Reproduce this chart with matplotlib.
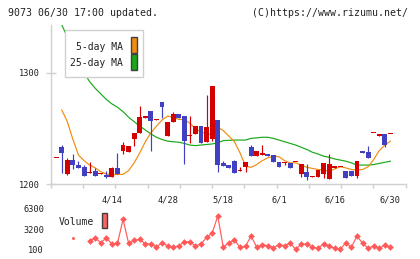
import matplotlib
matplotlib.use("Agg")
import matplotlib.pyplot as plt
from matplotlib.patches import Rectangle
import numpy as np

nan = np.nan

# daily candles, one entry per trading day
opens = [1223, 1233, 1209, 1221.5, 1217, 1215, 1209.5, 1212, 1209, 1208,
         1206.3, 1214, 1229.7, 1229, 1240.5, 1246, 1259.5, 1266, 1257.5, 1273.5,
         1243.5, 1255.5, 1263, 1261, 1243, 1244.5, 1252.5, 1238, 1240, 1257.5,
         1218.5, 1217, 1220.5, 1211.5, 1215.5, 1233.5, 1225.5, 1226.5, 1227, 1226,
         1220, 1218.5, 1218.5, 1219.5, 1209, 1211, 1206, 1206.5, 1209, 1204.5,
         1214.5, 1215, 1211.5, 1211.5, 1207.5, 1229.5, 1228.5, 1245.5, 1243, 1244.5,
         1244.5]
highs = [1223, 1235, 1223, 1227, 1220.5, 1217, 1220, 1214.5, 1209.5, 1211.5,
         1215.5, 1228, 1238, 1234.5, 1246, 1270, 1260, 1266, 1258, 1273.5,
         1256, 1264.5, 1263, 1261, 1261, 1252.5, 1252.5, 1280, 1288, 1257.5,
         1221, 1217, 1221.5, 1215.5, 1220, 1235, 1229.5, 1235, 1227, 1226,
         1220, 1220, 1218.5, 1220, 1218, 1218, 1207.5, 1212.5, 1218.5, 1227,
         1216, 1215.5, 1211.5, 1211.5, 1220.5, 1229.5, 1234, 1246, 1244.5, 1244.5,
         1245]
lows = [1223, 1210, 1208, 1213.5, 1214.5, 1207.5, 1209.5, 1207.5, 1209, 1205.5,
        1206, 1209, 1227, 1229, 1234, 1246, 1259.5, 1230, 1257.5, 1259,
        1243.5, 1255.5, 1259, 1218, 1237, 1244.5, 1237, 1238, 1239, 1211,
        1216.5, 1214.5, 1210, 1211.5, 1211, 1225.5, 1225.5, 1226.5, 1225.5, 1220,
        1215.5, 1217.5, 1214.5, 1219.5, 1206.5, 1204, 1206, 1206.5, 1205, 1204.5,
        1214.5, 1215, 1205.5, 1207.5, 1205, 1228, 1223.5, 1245.5, 1243, 1233.5,
        1244.5]
closes = [1223, 1228, 1221.5, 1217.5, 1214.5, 1207.5, 1210, 1207.5, 1209.5, 1206,
          1214.5, 1209, 1235, 1234.5, 1246, 1260.5, 1260, 1257, 1258, 1269.5,
          1256, 1263, 1259, 1239, 1243.5, 1252.5, 1237, 1251, 1288, 1217,
          1216.5, 1214.5, 1210, 1213, 1220, 1225.5, 1229.5, 1227, 1225.5, 1220,
          1215.5, 1219, 1214.5, 1220, 1218, 1206, 1207.5, 1212.5, 1218.5, 1218,
          1216, 1215.5, 1205.5, 1207.5, 1220.5, 1228, 1223.5, 1246, 1244.5, 1235.5,
          1245]

ma5 = [nan, 1266.5, 1256, 1240, 1226, 1221, 1217, 1214.5, 1211, 1209,
       1208.5, 1208.5, 1208.7, 1212, 1219, 1228, 1238, 1246, 1252, 1257.5,
       1261, 1260, 1258, 1258, 1254.5, 1250, 1246.5, 1245.5, 1244, 1251,
       1248, 1243, 1238, 1228, 1216, 1215, 1217.5, 1221, 1223.5, 1225,
       1224.5, 1221, 1219, 1219, 1217, 1215, 1214, 1213, 1212.6, 1211.5,
       1213.5, 1215.5, 1214.5, 1213, 1212.6, 1213, 1215.5, 1222, 1230, 1235,
       1238.5]
ma25 = [nan, 1343, 1332, 1321, 1310, 1300, 1292, 1286, 1281, 1276,
        1272, 1269, 1265, 1260, 1256, 1252, 1248.5, 1245, 1242, 1240,
        1238.5, 1238, 1237.5, 1236.5, 1235, 1234.5, 1235, 1235.5, 1236, 1237,
        1239, 1239.2, 1239.5, 1239.5, 1239.5, 1241, 1241.5, 1242, 1242, 1241,
        1239.5, 1238, 1236.5, 1235, 1233, 1231, 1228.5, 1227, 1225, 1224,
        1222.5, 1221.5, 1220.5, 1219, 1217, 1217, 1217, 1217.5, 1218.5, 1219.5,
        1220.5]

volume = [nan, nan, nan, 1880, nan, nan, 1420, 1840, 1110, 1840,
          920, 1020, 4710, 1020, 1480, 1640, 920, 920, 450, 1110,
          610, 450, 610, 1270, 1270, 610, 920, 1950, 2560, 5220,
          410, 1110, 1530, 410, 610, 2150, 410, 810, 650, 350,
          810, 650, 1050, 100, 870, 920, 410, 250, 920, 610,
          250, 100, 1110, 410, 2150, 1020, 250, 610, 250, 760,
          410]

date_labels = ["4/14", "4/28", "5/18", "6/1", "6/16", "6/30"]
date_pos = [10, 20, 30, 40, 50, 60]

RED = "#d40000"
BLUE = "#4040c0"
ORANGE = "#f08c10"
GREEN = "#18a818"
VOLC = "#ff5a5a"
GRID = "#d0d0d0"
MONO = "DejaVu Sans Mono"

W, H = 420, 259


def px(x, y):
    return x / W, 1 - y / H


fig = plt.figure(figsize=(4.2, 2.59), dpi=100)
ax = fig.add_axes([50.7 / W, 75 / H, 355 / W, 159 / H])
axv = fig.add_axes([50.7 / W, 6 / H, 355 / W, 48 / H])

o = np.array(opens)
c = np.array(closes)
x = np.arange(len(o))
up = c >= o
cols = np.where(up, RED, BLUE)
body_lo = np.minimum(o, c)
body_h = np.maximum(np.abs(c - o), 1.2)

ax.plot(x, ma25, color=GREEN, lw=0.85, zorder=2)
ax.plot(x, ma5, color=ORANGE, lw=0.85, zorder=2)
ax.vlines(x, lows, highs, colors=cols, lw=0.85, zorder=3)
ax.bar(x, body_h, bottom=body_lo, width=0.88, color=cols, lw=0, zorder=4)

xlim = (-0.99, 62.75)
ax.set_xlim(xlim)
ax.set_ylim(1200, 1342.9)
for s in ["top", "right"]:
    ax.spines[s].set_visible(False)
for s in ["left", "bottom"]:
    ax.spines[s].set_color(GRID)
    ax.spines[s].set_linewidth(1.0)
ax.set_xticks(np.linspace(xlim[0], xlim[1], 12))
ax.tick_params(axis="x", which="major", direction="out", length=3.2,
               width=1.0, color=GRID, labelbottom=False)
ax.set_xticks(date_pos, date_labels, minor=True)
ax.tick_params(axis="x", which="minor", length=0, pad=8.0,
               labelsize=6.2, labelcolor="#222222")
ax.set_yticks([1200, 1300])
ax.set_yticklabels(["1200", "1300"], fontsize=6.2, color="#222222")
ax.tick_params(axis="y", direction="inout", length=7, width=1.0,
               color=GRID, pad=4.3)
for lab in ax.get_xticklabels(minor=True) + ax.get_yticklabels():
    lab.set_family(MONO)

# volume panel
axv.plot(x[6:], volume[6:], color=VOLC, lw=0.85, marker="D",
         markersize=3.4, markeredgewidth=0, zorder=3)
axv.plot([x[3]], [volume[3]], color=VOLC, marker="s", markersize=1.0, lw=0)
axv.set_xlim(xlim)
axv.set_ylim(-469, 6915)
for s in axv.spines.values():
    s.set_visible(False)
axv.set_xticks([])
axv.set_yticks([100, 3200, 6300])
axv.set_yticklabels(["100", "3200", "6300"], fontsize=6.2, color="#222222",
                    family=MONO)
axv.tick_params(axis="y", length=0, pad=4.8)

# header texts
fig.text(*px(8.3, 13.5), "9073 06/30 17:00 updated.", fontsize=7.1,
         family=MONO, color="#222222", va="center", ha="left")
fig.text(*px(408, 13.5), "(C)https://www.rizumu.net/", fontsize=7.1,
         family=MONO, color="#222222", va="center", ha="right")

# moving average legend
fig.add_artist(Rectangle(px(65, 77.3), 78.3 / W, 47.3 / H,
                         transform=fig.transFigure, facecolor="white",
                         edgecolor=GRID, lw=1.0, zorder=5))
fig.text(*px(123, 47.3), "5-day MA", fontsize=7, family=MONO,
         color="#222222", va="center", ha="right", zorder=6)
fig.text(*px(123, 62.5), "25-day MA", fontsize=7, family=MONO,
         color="#222222", va="center", ha="right", zorder=6)
fig.add_artist(Rectangle(px(131, 52.7), 6.3 / W, 16 / H,
                         transform=fig.transFigure, facecolor=ORANGE,
                         edgecolor="#404040", lw=1.0, zorder=6))
fig.add_artist(Rectangle(px(131, 70), 6.3 / W, 15.7 / H,
                         transform=fig.transFigure, facecolor=GREEN,
                         edgecolor="#404040", lw=1.0, zorder=6))

# volume legend
fig.text(*px(59, 222.3), "Volume", fontsize=7, family=MONO,
         color="#222222", va="center", ha="left", zorder=6)
fig.add_artist(Rectangle(px(101.7, 228.3), 5.6 / W, 15 / H,
                         transform=fig.transFigure, facecolor="#ff6060",
                         edgecolor="#404040", lw=1.0, zorder=6))

fig.savefig("out.png", dpi=100, facecolor="white")
